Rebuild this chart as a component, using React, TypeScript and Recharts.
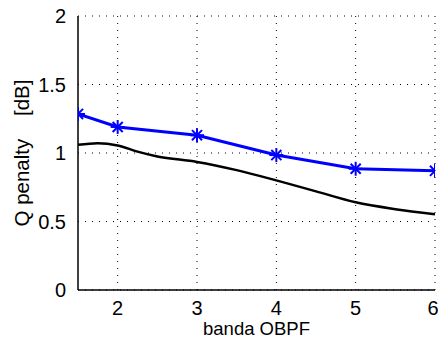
import { LineChart, Line, XAxis, YAxis, CartesianGrid } from 'recharts'

const xTicks = [2, 3, 4, 5, 6]
const yTicks = [0, 0.5, 1, 1.5, 2]

const blueX = [1.5, 2, 3, 4, 5, 6]
const blueY = [1.285, 1.19, 1.13, 0.985, 0.885, 0.87]

const blackX = [1.5, 1.75, 2, 2.25, 2.5, 3, 3.5, 4, 4.5, 5, 5.5, 6]
const blackY = [1.06, 1.072, 1.055, 1.01, 0.975, 0.935, 0.875, 0.8, 0.72, 0.64, 0.59, 0.553]

const blueData = blueX.map((x, i) => ({ x, y: blueY[i] }))
const blackData = blackX.map((x, i) => ({ x, y: blackY[i] }))

const font = '"Liberation Sans", Arial, sans-serif'

function Asterisk(props: any) {
  const { cx, cy } = props
  if (cx == null || cy == null) return null
  const r = 7
  const d = r * 0.72
  return (
    <g stroke="#0000ff" strokeWidth={2}>
      <line x1={cx - r} y1={cy} x2={cx + r} y2={cy} />
      <line x1={cx} y1={cy - r} x2={cx} y2={cy + r} />
      <line x1={cx - d} y1={cy - d} x2={cx + d} y2={cy + d} />
      <line x1={cx - d} y1={cy + d} x2={cx + d} y2={cy - d} />
    </g>
  )
}

export default function App() {
  return (
    <div style={{ position: 'fixed', left: 0, top: 0, width: 438, height: 338, background: '#fff' }}>
      <LineChart width={438} height={338} margin={{ top: 16, right: 3, left: 0, bottom: 0 }}>
        <CartesianGrid stroke="#000" strokeDasharray="1 6" strokeWidth={1} horizontalValues={yTicks} verticalValues={xTicks} />
        <XAxis
          type="number"
          dataKey="x"
          domain={[1.5, 6]}
          ticks={xTicks}
          allowDataOverflow
          height={48}
          axisLine={{ stroke: '#000', strokeWidth: 1.5 }}
          tickLine={false}
          tickMargin={5}
          tick={{ fill: '#000', fontSize: 20, fontFamily: font }}
          label={{ value: 'banda OBPF', position: 'insideBottom', offset: 3, fill: '#000', fontSize: 18.5, fontFamily: font }}
        />
        <YAxis
          type="number"
          dataKey="y"
          domain={[0, 2]}
          ticks={yTicks}
          width={78}
          axisLine={{ stroke: '#000', strokeWidth: 1.5 }}
          tickLine={false}
          tickMargin={6}
          tick={{ fill: '#000', fontSize: 20, fontFamily: font }}
          label={{ value: 'Q penalty\u00a0\u00a0\u00a0\u00a0[dB]', angle: -90, position: 'insideLeft', offset: 22, style: { textAnchor: 'middle' }, fill: '#000', fontSize: 20.5, fontFamily: font }}
        />
        <Line data={blackData} dataKey="y" type="monotone" stroke="#000" strokeWidth={2.5} dot={false} isAnimationActive={false} />
        <Line data={blueData} dataKey="y" type="linear" stroke="#0000ff" strokeWidth={3} dot={<Asterisk />} isAnimationActive={false} />
      </LineChart>
    </div>
  )
}
